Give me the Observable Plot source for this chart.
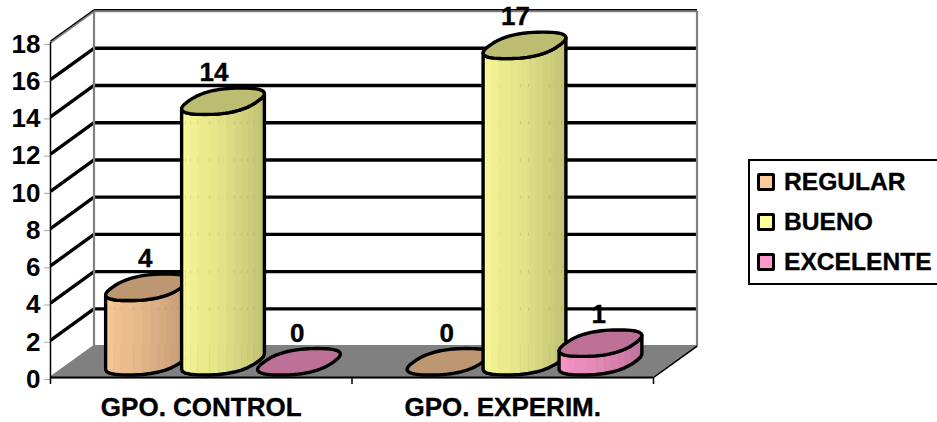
<!DOCTYPE html>
<html>
<head>
<meta charset="utf-8">
<script src="https://cdn.jsdelivr.net/npm/d3@7"></script>
<script src="https://cdn.jsdelivr.net/npm/@observablehq/plot@0.6"></script>
<style>
html,body{margin:0;padding:0;background:#fff;width:937px;height:422px;overflow:hidden}
#wrap{position:relative;width:937px;height:422px;font-family:"Liberation Sans",Arial,sans-serif;font-weight:bold;color:#000}
#legend{position:absolute;left:748px;top:159px;width:187px;height:122px;border:2px solid #000;box-sizing:content-box}
.row{position:absolute;left:7px;height:24px;line-height:24px;font-size:24.6px;white-space:nowrap;-webkit-text-stroke:0.35px #000}
.sw{display:inline-block;position:absolute;left:0;top:3px;width:12px;height:12px;border:3px solid #000;border-radius:2px;-webkit-text-stroke:0}
.row span.t{position:absolute;left:27px;top:0}
</style>
</head>
<body>
<div id="wrap"></div>
<script>
const groups = ["GPO. CONTROL", "GPO. EXPERIM."];
const seriesNames = ["REGULAR", "BUENO", "EXCELENTE"];
const regular = [4, 0];
const bueno = [14, 17];
const excelente = [0, 1];
const seriesColors = ["#FFCC99", "#FFFF99", "#FF99CC"];
const yTicks = [0, 2, 4, 6, 8, 10, 12, 14, 16, 18];

// oblique projection of the depth axis, in data units
const depthX = 0.1443, depthY = 1.69;
const barStep = 0.252, radX = 0.115, radZ = 0.42, facets = 14, shade = 0.74, squircle = 0.8;

const seriesValues = [regular, bueno, excelente];
const darken = (c) => { const r = d3.rgb(c); return d3.rgb(r.r*shade, r.g*shade, r.b*shade).formatHex(); };

const shapes = [];
let nid = 0;
function addPoly(points, fill, stroke, sw) {
  const id = nid++;
  for (const [x, y] of points) shapes.push({id, x, y, fill, stroke, sw});
}
addPoly([[0,0],[2,0],[2+depthX,depthY],[depthX,depthY]], "#808080", "#808080", 1);

const sp = (a) => Math.sign(a) * Math.pow(Math.abs(a), squircle);
const ring = (cx, v, t) => {
  const z = 0.5 + radZ*sp(Math.sin(t));
  return [cx + radX*sp(Math.cos(t)) + z*depthX, v + z*depthY];
};
// angle of the right-hand silhouette of the footprint
const scan = d3.range(0, Math.PI/2, 0.005);
const t0 = scan[d3.maxIndex(scan, t => ring(0,0,t)[0])];
const rows = [];
groups.forEach((g, gi) => {
  seriesNames.forEach((s, si) => {
    const v = seriesValues[si][gi];
    const cx = gi + 0.5 + (si-1)*barStep;
    const col = seriesColors[si], dark = darken(col);
    rows.push({x: cx, v, label: String(v)});
    if (v > 0) {
      const arc = d3.range(facets+1).map(i => t0 + Math.PI + Math.PI*i/facets);
      const mix = d3.interpolateRgb(col, dark);
      for (let i = 0; i < facets; i++) {
        const a = arc[i], b = arc[i+1];
        const c = d3.rgb(mix(i/(facets-1))).formatHex();
        addPoly([ring(cx,0,a),ring(cx,0,b),ring(cx,v,b),ring(cx,v,a)], c, c, 0.6);
      }
      const out = [...arc.map(t => ring(cx,0,t)), ...arc.slice().reverse().map(t => ring(cx,v,t))];
      addPoly(out, "none", "#000", 3.4);
    }
    const top = d3.range(64).map(i => ring(cx, v, 2*Math.PI*i/64));
    addPoly(top, dark, "#000", 3.4);
  });
});

const gridVals = yTicks.filter(v => v > 0 && v < 18);
const edge = [
  {x1:0,y1:18,x2:depthX,y2:18+depthY},
  {x1:depthX,y1:18+depthY,x2:2+depthX,y2:18+depthY},
  {x1:2+depthX,y1:18+depthY,x2:2+depthX,y2:depthY},
  {x1:depthX,y1:18+depthY,x2:depthX,y2:depthY},
  {x1:depthX,y1:depthY,x2:2+depthX,y2:depthY},
  {x1:0,y1:0,x2:depthX,y2:depthY}
];
const topEdge = edge.slice(0, 2);
const font = {fontSize:26, fontWeight:"bold", fontFamily:"Liberation Sans, Arial, sans-serif", fill:"#000", stroke:"#000", strokeWidth:0.35};

const chart = Plot.plot({
  width:937, height:422,
  marginLeft:50, marginRight:284, marginTop:42, marginBottom:45,
  style:{background:"#fff", overflow:"visible"},
  x:{domain:[0,2]},
  y:{domain:[0,18]},
  marks:[
    Plot.line(shapes.filter(d => d.id === 0), {x:"x", y:"y", fill:"#808080", stroke:"#808080", curve:"linear-closed"}),
    Plot.link(gridVals, {x1:() => 0, y1:d => d, x2:() => depthX, y2:d => d+depthY, stroke:"#000", strokeWidth:3.4}),
    Plot.link(gridVals, {x1:() => depthX, y1:d => d+depthY, x2:() => 2+depthX, y2:d => d+depthY, stroke:"#000", strokeWidth:3.4}),
    Plot.link(edge, {x1:"x1", y1:"y1", x2:"x2", y2:"y2", stroke:"#808080", strokeWidth:2.2}),
    Plot.link(topEdge, {x1:"x1", y1:"y1", x2:"x2", y2:"y2", stroke:"#000", strokeWidth:1.2, dy:-1.4}),
    Plot.link([2], {x1:d => d, y1:() => 0, x2:d => d+depthX, y2:() => depthY, stroke:"#000", strokeWidth:1.5}),
    Plot.ruleX([0], {stroke:"#000", strokeWidth:1.5}),
    Plot.ruleY([0], {stroke:"#000", strokeWidth:2}),
    Plot.axisX({ticks:[0,1,2], tickSize:7, tickFormat:() => "", label:null, stroke:"#000", strokeWidth:1.5}),
    Plot.axisY({ticks:yTicks, tickSize:6, tickPadding:4, label:null, dy:2, ...font}),
    Plot.line(shapes.filter(d => d.id !== 0), {x:"x", y:"y", z:"id", fill:"fill", stroke:"stroke", strokeWidth:"sw", strokeLinejoin:"round", curve:"linear-closed"}),
    Plot.text(rows, {x:d => d.x + depthX/2 + 0.018, y:"v", text:"label", textAnchor:"end", dy:-44, ...font}),
    Plot.text(groups, {x:(d,i) => i+0.5, y:() => 0, text:d => d, dy:30, ...font})
  ]
});
const wrap = document.getElementById("wrap");
wrap.appendChild(chart);
const lg = document.createElement("div");
lg.id = "legend";
seriesNames.forEach((s,i) => {
  const r = document.createElement("div");
  r.className = "row";
  r.style.top = (9 + i*40) + "px";
  const sw = document.createElement("span");
  sw.className = "sw";
  sw.style.background = seriesColors[i];
  const t = document.createElement("span");
  t.className = "t";
  t.textContent = s;
  r.append(sw,t);
  lg.appendChild(r);
});
wrap.appendChild(lg);
</script>
</body>
</html>
